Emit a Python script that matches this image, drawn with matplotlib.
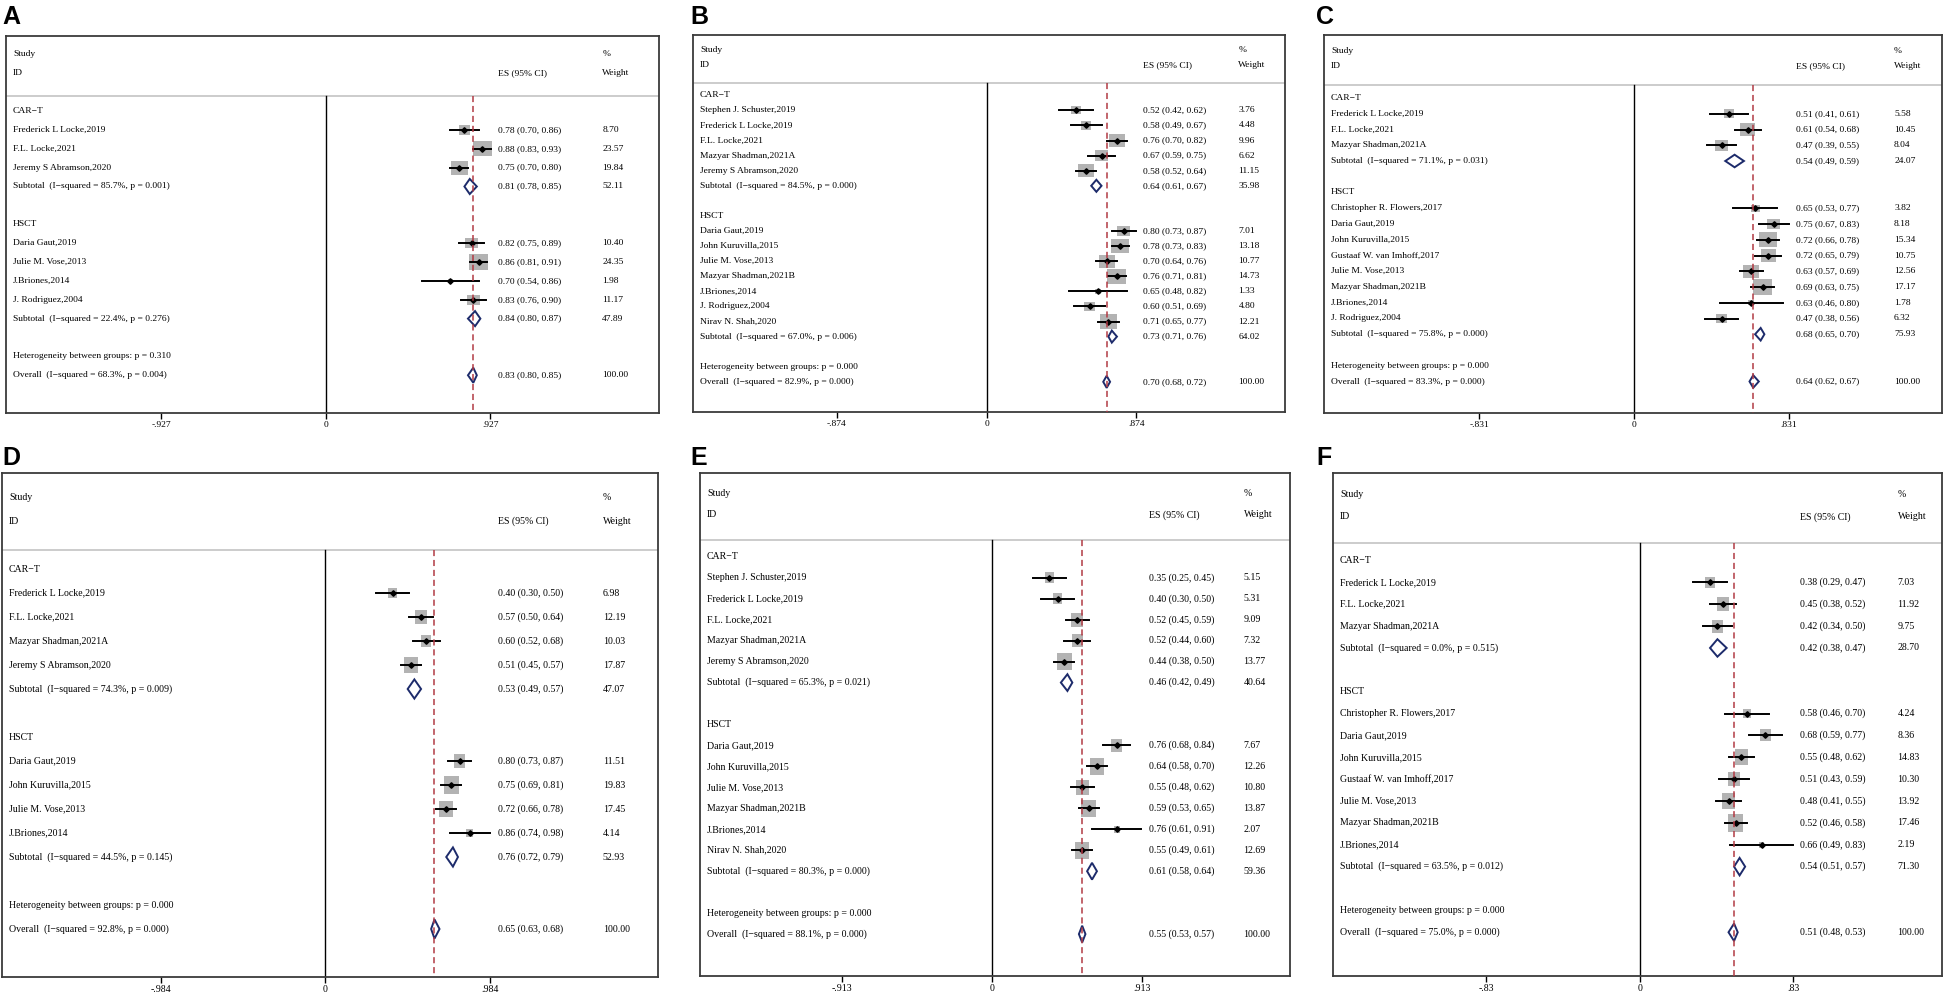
import matplotlib
matplotlib.use("Agg")
import matplotlib.pyplot as plt
from matplotlib.patches import Rectangle, Polygon
import numpy as np

# ---------------- data ----------------
# Panel A
A_names = ["Frederick L Locke,2019", "F.L. Locke,2021", "Jeremy S Abramson,2020",
           "Daria Gaut,2019", "Julie M. Vose,2013", "J.Briones,2014", "J. Rodriguez,2004"]
A_es = [0.78, 0.88, 0.75, 0.82, 0.86, 0.70, 0.83]
A_lo = [0.70, 0.83, 0.70, 0.75, 0.81, 0.54, 0.76]
A_hi = [0.86, 0.93, 0.80, 0.89, 0.91, 0.86, 0.90]
A_wt = [8.70, 23.57, 19.84, 10.40, 24.35, 1.98, 11.17]
A_ncart = 3
A_sub = [[0.81, 0.78, 0.85, 52.11], [0.84, 0.80, 0.87, 47.89]]
A_sub_stats = [["85.7%", "0.001"], ["22.4%", "0.276"]]
A_overall = [0.83, 0.80, 0.85]
A_overall_stats = ["68.3%", "0.004"]
A_het_p = "0.310"
A_tick = 0.927

# Panel B
B_names = ["Stephen J. Schuster,2019", "Frederick L Locke,2019", "F.L. Locke,2021",
           "Mazyar Shadman,2021A", "Jeremy S Abramson,2020",
           "Daria Gaut,2019", "John Kuruvilla,2015", "Julie M. Vose,2013",
           "Mazyar Shadman,2021B", "J.Briones,2014", "J. Rodriguez,2004", "Nirav N. Shah,2020"]
B_es = [0.52, 0.58, 0.76, 0.67, 0.58, 0.80, 0.78, 0.70, 0.76, 0.65, 0.60, 0.71]
B_lo = [0.42, 0.49, 0.70, 0.59, 0.52, 0.73, 0.73, 0.64, 0.71, 0.48, 0.51, 0.65]
B_hi = [0.62, 0.67, 0.82, 0.75, 0.64, 0.87, 0.83, 0.76, 0.81, 0.82, 0.69, 0.77]
B_wt = [3.76, 4.48, 9.96, 6.62, 11.15, 7.01, 13.18, 10.77, 14.73, 1.33, 4.80, 12.21]
B_ncart = 5
B_sub = [[0.64, 0.61, 0.67, 35.98], [0.73, 0.71, 0.76, 64.02]]
B_sub_stats = [["84.5%", "0.000"], ["67.0%", "0.006"]]
B_overall = [0.70, 0.68, 0.72]
B_overall_stats = ["82.9%", "0.000"]
B_het_p = "0.000"
B_tick = 0.874

# Panel C
C_names = ["Frederick L Locke,2019", "F.L. Locke,2021", "Mazyar Shadman,2021A",
           "Christopher R. Flowers,2017", "Daria Gaut,2019", "John Kuruvilla,2015",
           "Gustaaf W. van Imhoff,2017", "Julie M. Vose,2013", "Mazyar Shadman,2021B",
           "J.Briones,2014", "J. Rodriguez,2004"]
C_es = [0.51, 0.61, 0.47, 0.65, 0.75, 0.72, 0.72, 0.63, 0.69, 0.63, 0.47]
C_lo = [0.41, 0.54, 0.39, 0.53, 0.67, 0.66, 0.65, 0.57, 0.63, 0.46, 0.38]
C_hi = [0.61, 0.68, 0.55, 0.77, 0.83, 0.78, 0.79, 0.69, 0.75, 0.80, 0.56]
C_wt = [5.58, 10.45, 8.04, 3.82, 8.18, 15.34, 10.75, 12.56, 17.17, 1.78, 6.32]
C_ncart = 3
C_sub = [[0.54, 0.49, 0.59, 24.07], [0.68, 0.65, 0.70, 75.93]]
C_sub_stats = [["71.1%", "0.031"], ["75.8%", "0.000"]]
C_overall = [0.64, 0.62, 0.67]
C_overall_stats = ["83.3%", "0.000"]
C_het_p = "0.000"
C_tick = 0.831

# Panel D
D_names = ["Frederick L Locke,2019", "F.L. Locke,2021", "Mazyar Shadman,2021A",
           "Jeremy S Abramson,2020", "Daria Gaut,2019", "John Kuruvilla,2015",
           "Julie M. Vose,2013", "J.Briones,2014"]
D_es = [0.40, 0.57, 0.60, 0.51, 0.80, 0.75, 0.72, 0.86]
D_lo = [0.30, 0.50, 0.52, 0.45, 0.73, 0.69, 0.66, 0.74]
D_hi = [0.50, 0.64, 0.68, 0.57, 0.87, 0.81, 0.78, 0.98]
D_wt = [6.98, 12.19, 10.03, 17.87, 11.51, 19.83, 17.45, 4.14]
D_ncart = 4
D_sub = [[0.53, 0.49, 0.57, 47.07], [0.76, 0.72, 0.79, 52.93]]
D_sub_stats = [["74.3%", "0.009"], ["44.5%", "0.145"]]
D_overall = [0.65, 0.63, 0.68]
D_overall_stats = ["92.8%", "0.000"]
D_het_p = "0.000"
D_tick = 0.984

# Panel E
E_names = ["Stephen J. Schuster,2019", "Frederick L Locke,2019", "F.L. Locke,2021",
           "Mazyar Shadman,2021A", "Jeremy S Abramson,2020",
           "Daria Gaut,2019", "John Kuruvilla,2015", "Julie M. Vose,2013",
           "Mazyar Shadman,2021B", "J.Briones,2014", "Nirav N. Shah,2020"]
E_es = [0.35, 0.40, 0.52, 0.52, 0.44, 0.76, 0.64, 0.55, 0.59, 0.76, 0.55]
E_lo = [0.25, 0.30, 0.45, 0.44, 0.38, 0.68, 0.58, 0.48, 0.53, 0.61, 0.49]
E_hi = [0.45, 0.50, 0.59, 0.60, 0.50, 0.84, 0.70, 0.62, 0.65, 0.91, 0.61]
E_wt = [5.15, 5.31, 9.09, 7.32, 13.77, 7.67, 12.26, 10.80, 13.87, 2.07, 12.69]
E_ncart = 5
E_sub = [[0.46, 0.42, 0.49, 40.64], [0.61, 0.58, 0.64, 59.36]]
E_sub_stats = [["65.3%", "0.021"], ["80.3%", "0.000"]]
E_overall = [0.55, 0.53, 0.57]
E_overall_stats = ["88.1%", "0.000"]
E_het_p = "0.000"
E_tick = 0.913

# Panel F
F_names = ["Frederick L Locke,2019", "F.L. Locke,2021", "Mazyar Shadman,2021A",
           "Christopher R. Flowers,2017", "Daria Gaut,2019", "John Kuruvilla,2015",
           "Gustaaf W. van Imhoff,2017", "Julie M. Vose,2013", "Mazyar Shadman,2021B",
           "J.Briones,2014"]
F_es = [0.38, 0.45, 0.42, 0.58, 0.68, 0.55, 0.51, 0.48, 0.52, 0.66]
F_lo = [0.29, 0.38, 0.34, 0.46, 0.59, 0.48, 0.43, 0.41, 0.46, 0.49]
F_hi = [0.47, 0.52, 0.50, 0.70, 0.77, 0.62, 0.59, 0.55, 0.58, 0.83]
F_wt = [7.03, 11.92, 9.75, 4.24, 8.36, 14.83, 10.30, 13.92, 17.46, 2.19]
F_ncart = 3
F_sub = [[0.42, 0.38, 0.47, 28.70], [0.54, 0.51, 0.57, 71.30]]
F_sub_stats = [["0.0%", "0.515"], ["63.5%", "0.012"]]
F_overall = [0.51, 0.48, 0.53]
F_overall_stats = ["75.0%", "0.000"]
F_het_p = "0.000"
F_tick = 0.83

GROUPS = ["CAR\u2212T", "HSCT"]

# ---------------- layout (pixels in the 1949x999 canvas) ----------------
W, H = 1949, 999
# box left, right, top, bottom, x-pixel of 0, x-pixel of +tick, label x, label baseline
LAYOUT = {
    "A": (6, 659, 35.5, 413, 326, 490.5, 2, 24),
    "B": (693, 1285, 35, 412, 986.6, 1136.5, 690, 24),
    "C": (1324, 1942, 35, 413, 1634, 1788.8, 1316, 24),
    "D": (2, 658, 473, 977, 325.5, 490.5, 2, 465),
    "E": (700, 1290, 473, 976, 992, 1141.7, 690, 465),
    "F": (1333, 1942, 473, 976, 1639.8, 1793.2, 1316, 465),
}
# max square size (px) : width, height
BOXSIZE = {"top": (19, 15.5), "bottom": (15, 17.5)}

plt.rcParams['font.family'] = ['Liberation Serif', 'DejaVu Serif']

fig = plt.figure(figsize=(W / 100, H / 100), dpi=100)

RED = "#b23a44"
NAVY = "#1d2b6b"
GRAY = "#b3b3b3"


def forest(letter, names, es, lo, hi, wt, ncart, sub, sub_stats, overall,
           overall_stats, het_p, tick, fs, boxsize):
    x0, x1, y0, y1, zpx, tpx, lx, lby = LAYOUT[letter]
    ax = fig.add_axes([x0 / W, 1 - y1 / H, (x1 - x0) / W, (y1 - y0) / H])
    scale = (tpx - zpx) / tick  # px per unit
    xmin = (x0 - zpx) / scale
    xmax = (x1 - zpx) / scale

    # rows
    rows = [("grp", 0)]
    rows += [("study", i) for i in range(ncart)]
    rows += [("sub", 0), ("blank", 0), ("grp", 1)]
    rows += [("study", i) for i in range(ncart, len(names))]
    rows += [("sub", 1), ("blank", 0), ("het", 0), ("ov", 0)]
    last = len(rows) - 1
    ax.set_xlim(xmin, xmax)
    ax.set_ylim(last + 2, -4)
    row_px = (y1 - y0) / (last + 6)

    xl = xmin + 7 / scale
    xes = 1.046 * tick
    xw = 1.68 * tick

    # header
    ax.text(xl, -3, "Study", fontsize=fs, va="center", ha="left")
    ax.text(xl, -2, "ID", fontsize=fs, va="center", ha="left")
    ax.text(xes, -2, "ES (95% CI)", fontsize=fs, va="center", ha="left")
    ax.text(xw, -3, "%", fontsize=fs, va="center", ha="left")
    ax.text(xw, -2, "Weight", fontsize=fs, va="center", ha="left")
    ax.plot([xmin, xmax], [-0.8, -0.8], color="#c8c8c8", lw=1.3, zorder=1)

    ax.plot([0, 0], [-0.8, last + 2], color="black", lw=1.0, zorder=1)

    wmax = max(wt)
    bw, bh = boxsize
    for r, (kind, i) in enumerate(rows):
        if kind == "grp":
            ax.text(xl, r, GROUPS[i], fontsize=fs, va="center", ha="left")
        elif kind == "study":
            f = np.sqrt(wt[i] / wmax)
            w = bw * f / scale
            h = bh * f / row_px
            ax.add_patch(Rectangle((es[i] - w / 2, r - h / 2), w, h,
                                   facecolor=GRAY, edgecolor="none", zorder=2))
            ax.plot([lo[i], hi[i]], [r, r], color="black", lw=1.4, zorder=3)
            ax.plot(es[i], r, marker="D", ms=2.8, color="black", zorder=4)
            ax.text(xl, r, names[i], fontsize=fs, va="center", ha="left")
            ax.text(xes, r, "%.2f (%.2f, %.2f)" % (es[i], lo[i], hi[i]),
                    fontsize=fs, va="center", ha="left")
            ax.text(xw, r, "%.2f" % wt[i], fontsize=fs, va="center", ha="left")
        elif kind == "sub":
            s_es, s_lo, s_hi, s_wt = sub[i]
            ax.add_patch(Polygon([(s_lo, r), (s_es, r - 0.4), (s_hi, r), (s_es, r + 0.4)],
                                 closed=True, facecolor="white", edgecolor=NAVY,
                                 lw=1.4, zorder=3))
            ax.text(xl, r, "Subtotal  (I\u2212squared = %s, p = %s)" % tuple(sub_stats[i]),
                    fontsize=fs, va="center", ha="left")
            ax.text(xes, r, "%.2f (%.2f, %.2f)" % (s_es, s_lo, s_hi),
                    fontsize=fs, va="center", ha="left")
            ax.text(xw, r, "%.2f" % s_wt, fontsize=fs, va="center", ha="left")
        elif kind == "het":
            ax.text(xl, r, "Heterogeneity between groups: p = %s" % het_p,
                    fontsize=fs, va="center", ha="left")
        elif kind == "ov":
            o_es, o_lo, o_hi = overall
            ax.add_patch(Polygon([(o_lo, r), (o_es, r - 0.4), (o_hi, r), (o_es, r + 0.4)],
                                 closed=True, facecolor="white", edgecolor=NAVY,
                                 lw=1.4, zorder=3))
            ax.text(xl, r, "Overall  (I\u2212squared = %s, p = %s)" % tuple(overall_stats),
                    fontsize=fs, va="center", ha="left")
            ax.text(xes, r, "%.2f (%.2f, %.2f)" % (o_es, o_lo, o_hi),
                    fontsize=fs, va="center", ha="left")
            ax.text(xw, r, "100.00", fontsize=fs, va="center", ha="left")

    ax.plot([overall[0], overall[0]], [-0.8, last + 2], color=RED, lw=1.1,
            ls=(0, (4, 2.5)), zorder=5)

    lab = ("%g" % tick).lstrip("0")
    ax.set_xticks([-tick, 0, tick])
    ax.set_xticklabels(["-" + lab, "0", lab], fontsize=fs)
    ax.set_yticks([])
    ax.tick_params(axis="x", direction="out", length=4, width=1.0, pad=2)
    for sp in ax.spines.values():
        sp.set_color("#3a3a3a")
        sp.set_linewidth(1.3)

    fig.text(lx / W, 1 - lby / H, letter, fontsize=18, fontweight="bold",
             family="Liberation Sans", ha="left", va="baseline")


forest("A", A_names, A_es, A_lo, A_hi, A_wt, A_ncart, A_sub, A_sub_stats,
       A_overall, A_overall_stats, A_het_p, A_tick, 6.8, BOXSIZE["top"])
forest("B", B_names, B_es, B_lo, B_hi, B_wt, B_ncart, B_sub, B_sub_stats,
       B_overall, B_overall_stats, B_het_p, B_tick, 6.8, BOXSIZE["top"])
forest("C", C_names, C_es, C_lo, C_hi, C_wt, C_ncart, C_sub, C_sub_stats,
       C_overall, C_overall_stats, C_het_p, C_tick, 6.8, BOXSIZE["top"])
forest("D", D_names, D_es, D_lo, D_hi, D_wt, D_ncart, D_sub, D_sub_stats,
       D_overall, D_overall_stats, D_het_p, D_tick, 7.1, BOXSIZE["bottom"])
forest("E", E_names, E_es, E_lo, E_hi, E_wt, E_ncart, E_sub, E_sub_stats,
       E_overall, E_overall_stats, E_het_p, E_tick, 7.1, BOXSIZE["bottom"])
forest("F", F_names, F_es, F_lo, F_hi, F_wt, F_ncart, F_sub, F_sub_stats,
       F_overall, F_overall_stats, F_het_p, F_tick, 7.1, BOXSIZE["bottom"])

fig.savefig("out.png", dpi=100)
